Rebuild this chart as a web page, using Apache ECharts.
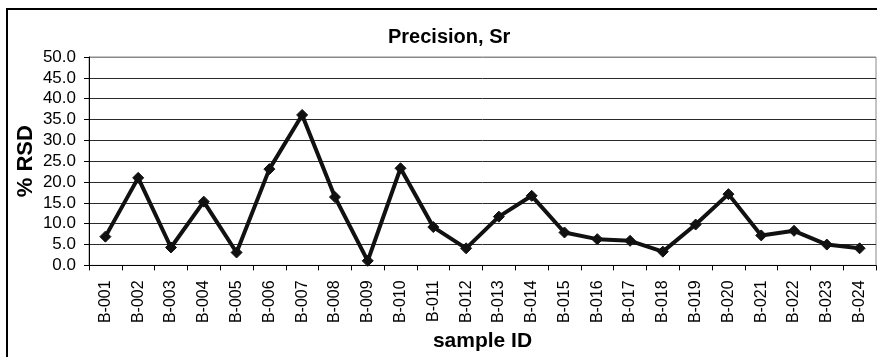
<!DOCTYPE html>
<html>
<head>
<meta charset="utf-8">
<script src="https://cdn.jsdelivr.net/npm/echarts@6/dist/echarts.min.js"></script>
<style>
  html, body { margin: 0; padding: 0; background: #fff; }
  #chart { width: 877px; height: 357px; }
</style>
</head>
<body>
<div id="chart"></div>
<script>
// Sample IDs along the x axis
const sampleIds = [
  'B-001', 'B-002', 'B-003', 'B-004', 'B-005', 'B-006', 'B-007', 'B-008',
  'B-009', 'B-010', 'B-011', 'B-012', 'B-013', 'B-014', 'B-015', 'B-016',
  'B-017', 'B-018', 'B-019', 'B-020', 'B-021', 'B-022', 'B-023', 'B-024'
];

// Relative standard deviation (%) for Sr per sample
const rsdValues = [
  6.9, 21.0, 4.3, 15.3, 3.1, 23.1, 36.1, 16.4,
  1.1, 23.3, 9.2, 4.1, 11.7, 16.7, 7.9, 6.3,
  5.9, 3.3, 9.8, 17.1, 7.2, 8.3, 5.0, 4.1
];

// Value axis range
const yMin = 0;
const yMax = 50;
const yStep = 5;

const FONT = '"Liberation Sans", Arial, sans-serif';

// Gridline colours: dark lines, lighter top edge where it meets the plot border
const gridColors = [];
for (let v = yMin; v <= yMax; v += yStep) {
  gridColors.push(v === yMax ? '#8a8a8a' : '#2a2a2a');
}

const chart = echarts.init(document.getElementById('chart'), null, { renderer: 'canvas' });

chart.setOption({
  animation: false,
  backgroundColor: '#ffffff',
  textStyle: { fontFamily: FONT, color: '#000' },
  title: {
    text: 'Precision, Sr',
    left: 388,
    top: 27,
    padding: 0,
    textStyle: { fontFamily: FONT, fontSize: 20, fontWeight: 'bold', color: '#000' }
  },
  graphic: [
    {
      type: 'rect',
      silent: true,
      shape: { x: 7, y: 9, width: 920, height: 420 },
      style: { fill: 'none', stroke: '#000', lineWidth: 2 }
    }
  ],
  grid: {
    left: 89,
    right: 1,
    top: 57,
    bottom: 88,
    show: true,
    borderColor: '#8a8a8a',
    borderWidth: 1,
    backgroundColor: 'transparent'
  },
  xAxis: {
    type: 'category',
    data: sampleIds,
    boundaryGap: true,
    name: 'sample ID',
    nameLocation: 'middle',
    nameGap: 62,
    nameTextStyle: { fontFamily: FONT, fontSize: 21, fontWeight: 'bold', color: '#000' },
    axisLine: { show: true, lineStyle: { color: '#000', width: 1 } },
    axisTick: { show: true, alignWithLabel: false, interval: 0, length: 5, lineStyle: { color: '#000' } },
    axisLabel: {
      interval: 0,
      rotate: 90,
      margin: 15,
      fontFamily: FONT,
      fontSize: 16,
      color: '#000'
    },
    splitLine: { show: false }
  },
  yAxis: {
    type: 'value',
    min: yMin,
    max: yMax,
    interval: yStep,
    name: '% RSD',
    nameLocation: 'middle',
    nameGap: 52,
    nameRotate: 90,
    nameMoveOverlap: false,
    nameTextStyle: { fontFamily: FONT, fontSize: 22, fontWeight: 'bold', color: '#000' },
    axisLine: { show: true, lineStyle: { color: '#000', width: 1 } },
    axisTick: { show: true, length: 5, lineStyle: { color: '#000' } },
    axisLabel: {
      margin: 13,
      fontFamily: FONT,
      fontSize: 17,
      color: '#000',
      formatter: (v) => v.toFixed(1)
    },
    splitLine: { show: true, lineStyle: { color: gridColors, width: 1 } }
  },
  series: [
    {
      name: '% RSD',
      type: 'line',
      data: rsdValues,
      symbol: 'diamond',
      symbolSize: 11,
      showAllSymbol: true,
      lineStyle: { color: '#111', width: 4 },
      itemStyle: { color: '#111', borderColor: '#111' },
      emphasis: { disabled: true }
    }
  ]
});
</script>
</body>
</html>
